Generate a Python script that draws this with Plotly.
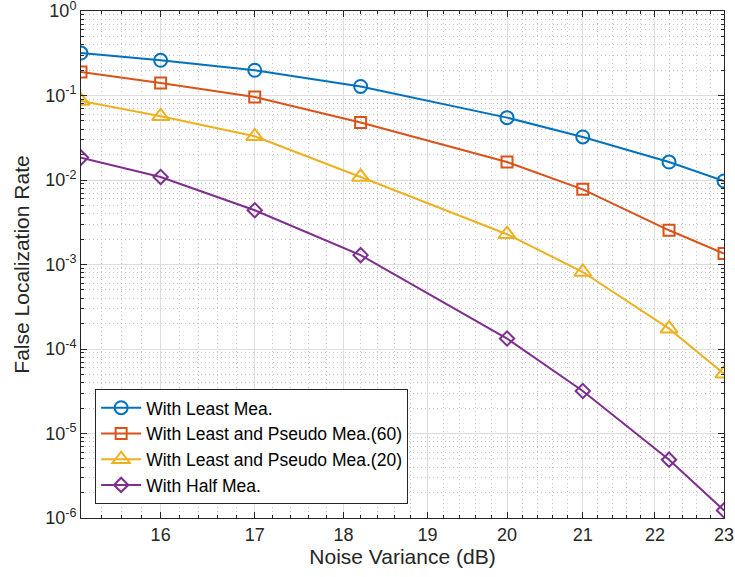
import numpy as np
import plotly.graph_objects as go

# ---- data ----
noise_db = [15.2, 16, 17, 18.2, 20, 21, 22.2, 23]
least_mea = [0.318, 0.261, 0.199, 0.128, 0.0547, 0.0323, 0.0163, 0.00973]
pseudo_60 = [0.190, 0.1406, 0.0960, 0.0478, 0.0163, 0.00776, 0.00254, 0.00135]
pseudo_20 = [0.0861, 0.0567, 0.0329, 0.01086, 0.00228, 0.000815, 0.000174, 5.1e-5]
half_mea = [0.0184, 0.01086, 0.00438, 0.00129, 1.33e-4, 3.18e-5, 4.9e-6, 1.23e-6]

series_names = ["With Least Mea.", "With Least and Pseudo Mea.(60)",
                "With Least and Pseudo Mea.(20)", "With Half Mea."]
x_ticks = [16, 17, 18, 19, 20, 21, 22, 23]
y_exponents = [0, -1, -2, -3, -4, -5, -6]

colors = ["#0072BD", "#D95319", "#EDB120", "#7E2F8E"]
symbols = ["circle-open", "square-open", "triangle-up-open", "diamond-open"]
sizes = [13, 11, 15, 11]

FONT = "Liberation Sans, Arial, Helvetica, sans-serif"
AX = "#262626"
MINOR_GRID = dict(showgrid=True, gridcolor="#c6c6c6", griddash="1px,3px", gridwidth=1)

fig = go.Figure()
for name, ys, c, s, sz in zip(series_names, [least_mea, pseudo_60, pseudo_20, half_mea],
                              colors, symbols, sizes):
    fig.add_trace(go.Scatter(
        x=noise_db, y=ys, name=name, mode="lines+markers",
        line=dict(color=c, width=2),
        marker=dict(symbol=s, size=sz, color=c, line=dict(color=c, width=2)),
    ))

minor_x = [round(v, 1) for v in np.arange(15.4, 23.0, 0.2) if abs(v - round(v)) > 1e-6]
minor_y = [m * 10.0 ** k for k in range(-6, 0) for m in range(2, 10)]

fig.update_xaxes(
    type="log", range=[np.log10(15.2), np.log10(23)], automargin=False,
    tickmode="array", tickvals=x_ticks, ticktext=[str(v) for v in x_ticks],
    ticks="inside", ticklen=6, tickcolor=AX, tickwidth=1,
    showline=True, linecolor=AX, linewidth=1, mirror="allticks",
    showgrid=True, gridcolor="#dedede", gridwidth=1, zeroline=False,
    minor=dict(tickmode="array", tickvals=minor_x, ticks="inside", ticklen=3,
               tickcolor=AX, **MINOR_GRID),
    tickfont=dict(size=18, color=AX, family=FONT),
    ticklabeloverflow="allow",
    title=dict(text="Noise Variance (dB)", font=dict(size=21, color=AX, family=FONT), standoff=5),
)
fig.update_yaxes(
    type="log", range=[-6, 0], automargin=False,
    tickmode="array", tickvals=[10.0 ** e for e in y_exponents],
    ticktext=["10<sup>%d</sup>" % e for e in y_exponents],
    ticks="inside", ticklen=6, tickcolor=AX, tickwidth=1,
    showline=True, linecolor=AX, linewidth=1, mirror="allticks",
    showgrid=True, gridcolor="#dedede", gridwidth=1, zeroline=False,
    minor=dict(tickmode="array", tickvals=minor_y, ticks="inside", ticklen=3,
               tickcolor=AX, **MINOR_GRID),
    tickfont=dict(size=18, color=AX, family=FONT),
    ticklabeloverflow="allow",
    title=dict(text="False Localization Rate", font=dict(size=21, color=AX, family=FONT), standoff=9),
)

fig.update_layout(
    width=735, height=577,
    margin=dict(l=81, r=11, t=11, b=59, autoexpand=False),
    paper_bgcolor="white", plot_bgcolor="white",
    font=dict(family=FONT, color=AX),
    legend=dict(x=0.022, y=0.028, xanchor="left", yanchor="bottom",
                bgcolor="white", bordercolor=AX, borderwidth=1,
                font=dict(size=17.5, color="black", family=FONT),
                itemwidth=40, tracegroupgap=0),
    showlegend=True,
)

fig.write_html("out.html")
